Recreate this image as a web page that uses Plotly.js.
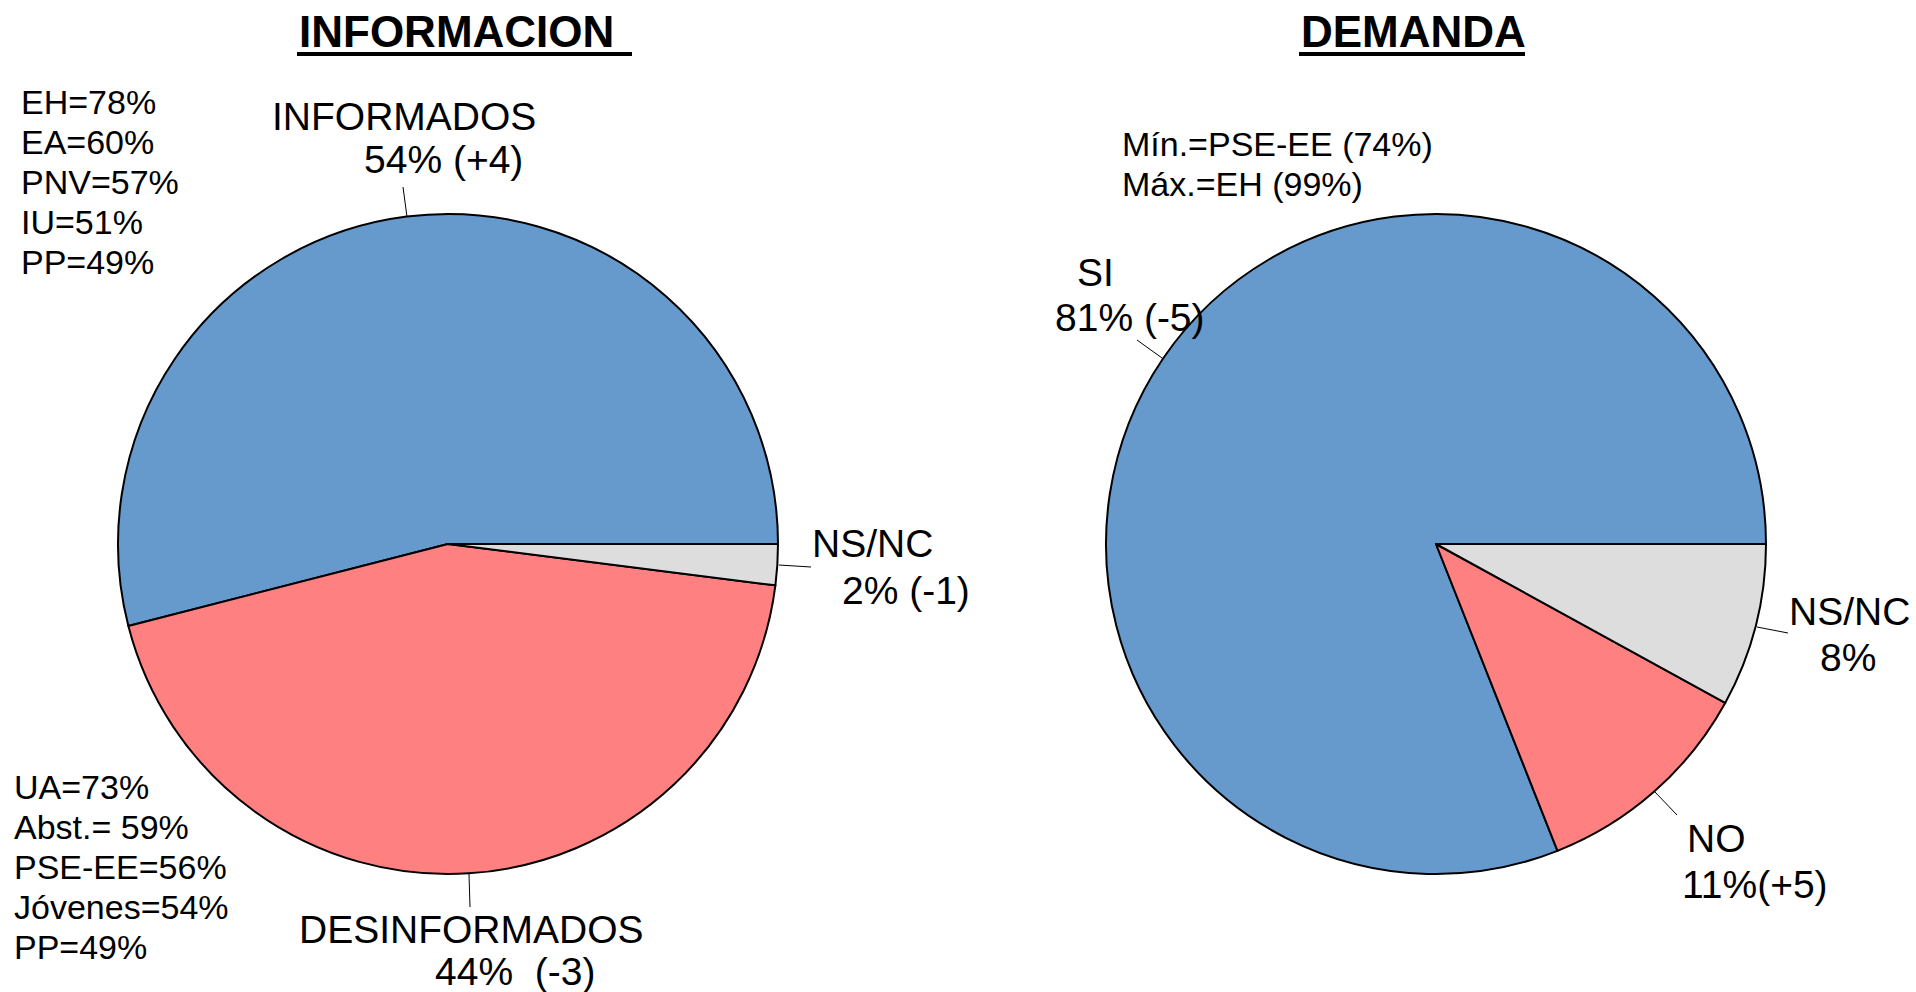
<!DOCTYPE html>
<html>
<head>
<meta charset="utf-8">
<script src="https://cdn.plot.ly/plotly-3.0.1.min.js"></script>
<style>html,body{margin:0;padding:0;background:#fff;}#chart{width:1916px;height:992px;}</style>
</head>
<body>
<div id="chart"></div>
<script>
// ---- data ----
const infoLabels = ['INFORMADOS', 'DESINFORMADOS', 'NS/NC'];
const infoValues = [54, 44, 2];
const infoChange = ['(+4)', '(-3)', '(-1)'];
const demLabels = ['SI', 'NO', 'NS/NC'];
const demValues = [81, 11, 8];
const demChange = ['(-5)', '(+5)', ''];
const sliceColors = ['#6699CC', '#FF8080', '#DDDDDD'];
const infoTopNotes = ['EH=78%', 'EA=60%', 'PNV=57%', 'IU=51%', 'PP=49%'];
const infoBottomNotes = ['UA=73%', 'Abst.= 59%', 'PSE-EE=56%', 'Jóvenes=54%', 'PP=49%'];
const demNotes = ['Mín.=PSE-EE (74%)', 'Máx.=EH (99%)'];
const titles = ['INFORMACION ', 'DEMANDA'];

// ---- layout helpers (pixel -> paper) ----
const W = 1916, H = 992;
const px = x => x / W;
const py = y => 1 - y / H;
const FONT = 'Liberation Sans, Arial, sans-serif';

function pieDomain(cx, cy, r) {
  return { x: [px(cx - r), px(cx + r)], y: [py(cy + r), py(cy - r)] };
}
// first slice starts at 3 o'clock and runs counterclockwise
function startRotation(vals) {
  const total = vals.reduce((a, b) => a + b, 0);
  return 90 - 360 * vals[0] / total;
}

const traces = [
  {
    type: 'pie', labels: infoLabels, values: infoValues, sort: false,
    direction: 'counterclockwise', rotation: startRotation(infoValues),
    marker: { colors: sliceColors, line: { color: '#000', width: 2 } },
    textinfo: 'none', hoverinfo: 'none', showlegend: false,
    domain: pieDomain(448, 544, 330)
  },
  {
    type: 'pie', labels: demLabels, values: demValues, sort: false,
    direction: 'counterclockwise', rotation: startRotation(demValues),
    marker: { colors: sliceColors, line: { color: '#000', width: 2 } },
    textinfo: 'none', hoverinfo: 'none', showlegend: false,
    domain: pieDomain(1436, 544, 330)
  }
];

const ann = [];
function txt(text, x, y, size, anchor, bold) {
  ann.push({
    text: bold ? '<b>' + text + '</b>' : text, xref: 'paper', yref: 'paper',
    x: px(x), y: py(y), xanchor: anchor, yanchor: 'middle', showarrow: false,
    font: { family: FONT, size: size, color: '#000' }
  });
}
// titles
txt(titles[0], 297, 32, 44, 'left', true);
txt(titles[1], 1299, 32, 44, 'left', true);
// notes
infoTopNotes.forEach((t, i) => txt(t, 19, 101.6 + 40 * i, 34, 'left'));
infoBottomNotes.forEach((t, i) => txt(t, 12, 786.7 + 40 * i, 34, 'left'));
demNotes.forEach((t, i) => txt(t, 1120, 144 + 40 * i, 34, 'left'));
// slice labels
txt(infoLabels[0], 404, 116, 39, 'center');
txt(infoValues[0] + '% ' + infoChange[0], 443, 160, 39, 'center');
txt(infoLabels[1], 471, 929, 39, 'center');
txt(infoValues[1] + '%  ' + infoChange[1], 515, 971, 39, 'center');
txt(infoLabels[2], 872, 543, 39, 'center');
txt(infoValues[2] + '% ' + infoChange[2], 906, 590, 39, 'center');
txt(demLabels[0], 1095, 272, 39, 'center');
txt(demValues[0] + '% ' + demChange[0], 1130, 317, 39, 'center');
txt(demLabels[1], 1716, 838, 39, 'center');
txt(demValues[1] + '%' + demChange[1], 1755, 884, 39, 'center');
txt(demLabels[2], 1849, 611, 39, 'center');
txt(demValues[2] + '%', 1848, 657, 39, 'center');

const shapes = [];
function seg(x0, y0, x1, y1, w) {
  shapes.push({ type: 'line', xref: 'paper', yref: 'paper',
    x0: px(x0), y0: py(y0), x1: px(x1), y1: py(y1),
    line: { color: '#000', width: w } });
}
// title underlines
seg(297, 54, 632, 54, 4);
seg(1299, 54, 1525, 54, 4);
// leader lines
seg(403, 187, 407, 217, 1);
seg(469, 874, 470, 907, 1);
seg(779, 565, 811, 567, 1);
seg(1137, 340, 1162, 358, 1);
seg(1757, 627, 1788, 633, 1);
seg(1655, 792, 1677, 815, 1);

const layout = {
  width: W, height: H,
  margin: { l: 0, r: 0, t: 0, b: 0 },
  paper_bgcolor: '#fff', plot_bgcolor: '#fff',
  showlegend: false,
  annotations: ann, shapes: shapes,
  font: { family: FONT }
};
Plotly.newPlot('chart', traces, layout, { displayModeBar: false, staticPlot: true });
</script>
</body>
</html>
